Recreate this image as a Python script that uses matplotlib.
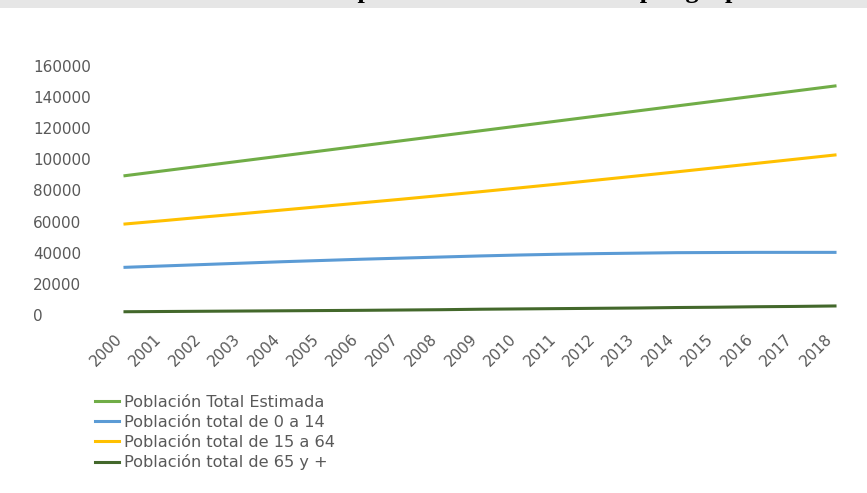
import matplotlib
matplotlib.use("Agg")
import matplotlib.pyplot as plt
from matplotlib.patches import Rectangle

# data
years = [str(y) for y in range(2000, 2019)]
total = [89400, 92600, 95800, 99000, 102200, 105400, 108600, 111800, 115000,
         118200, 121400, 124600, 127800, 131000, 134200, 137400, 140600,
         143800, 147000]
pob_0_14 = [30600, 31500, 32400, 33300, 34200, 35000, 35800, 36500, 37200,
            37900, 38500, 39000, 39400, 39700, 40000, 40100, 40200, 40200,
            40200]
pob_15_64 = [58400, 60600, 62900, 65100, 67400, 69700, 72000, 74300, 76700,
             79100, 81600, 84100, 86700, 89300, 91900, 94600, 97300, 100000,
             102700]
pob_65 = [2100, 2250, 2400, 2550, 2700, 2850, 3000, 3200, 3400, 3700, 3900,
          4100, 4300, 4500, 4800, 5000, 5300, 5500, 5800]
labels = ["Población Total Estimada", "Población total de 0 a 14",
          "Población total de 15 a 64", "Población total de 65 y +"]
title = "Evolución de la población total estimada por grupos etarios"

W, H = 867, 493
grey = "#595959"

fig = plt.figure(figsize=(W / 100, H / 100), dpi=100)
fig.patch.set_facecolor("white")

# grey strip at the top of the crop
fig.patches.append(Rectangle((0, 1 - 8 / H), 1, 8 / H, transform=fig.transFigure,
                             facecolor="#e6e6e6", edgecolor="none", zorder=0))
# title is cut off by the crop, only descenders remain visible
fig.text(178 / W, 1 + 2 / H, title, family="Liberation Serif",
         weight="bold", fontsize=19, ha="left", va="baseline", color="black")

ax = fig.add_axes([125 / W, (H - 315) / H, 710 / W, 249.3 / H])
ax.set_facecolor("none")
x = list(range(len(years)))
ax.plot(x, total, color="#70AD47", lw=2.2, label=labels[0], clip_on=False)
ax.plot(x, pob_0_14, color="#5B9BD5", lw=2.2, label=labels[1], clip_on=False)
ax.plot(x, pob_15_64, color="#FFC000", lw=2.2, label=labels[2], clip_on=False)
ax.plot(x, pob_65, color="#43682B", lw=2.2, label=labels[3], clip_on=False)

ax.set_xlim(0, 18)
ax.set_ylim(0, 160000)
ax.set_yticks(range(0, 160001, 20000))
ax.set_yticklabels([str(v) for v in range(0, 160001, 20000)], ha="left")
ax.set_xticks(x)
ax.set_xticklabels(years, rotation=45, ha="right", va="top")
# labels on the reference are left aligned at x ~ 33 px
ax.tick_params(axis="y", length=0, pad=(125 - 33) * 0.72, labelsize=11,
               labelcolor=grey)
ax.tick_params(axis="x", length=0, pad=12, labelsize=11, labelcolor=grey)
for s in ax.spines.values():
    s.set_visible(False)

fig.legend(loc="upper left", bbox_to_anchor=(95 / W, 1 - 395 / H),
           frameon=False, fontsize=11.6, labelcolor=grey, handlelength=1.5,
           handletextpad=0.3, labelspacing=0.3, borderpad=0,
           borderaxespad=0)

fig.savefig("out.png", dpi=100)
